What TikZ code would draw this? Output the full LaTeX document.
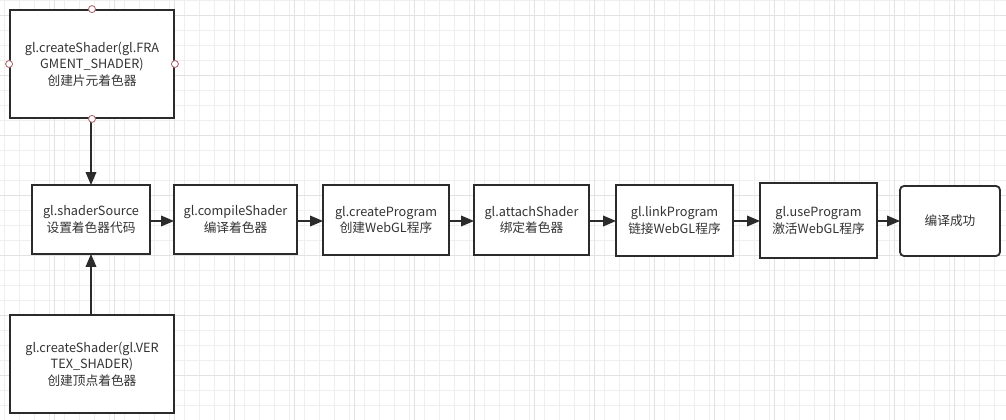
\documentclass[tikz,border=0pt]{standalone}
\usepackage{fontspec}
\setmainfont{Noto Sans CJK SC}
\usetikzlibrary{arrows.meta}
\definecolor{txt}{HTML}{333333}
\definecolor{edge}{HTML}{2B2B2B}
\definecolor{gminor}{HTML}{EFEFEF}
\definecolor{gmajor}{HTML}{E2E2E2}
\definecolor{pin}{HTML}{B06A74}
\tikzset{
  box/.style={draw=edge, line width=1.8pt, fill=white, text=txt, align=center,
    font=\fontsize{12.7}{16.5}\selectfont, inner sep=0pt},
  flow/.style={draw=edge, line width=1.8pt, -{Triangle[length=13pt,width=10.5pt]}, shorten >=-1pt},
  pinc/.style={circle, draw=pin, fill=white, line width=0.9pt, minimum size=7pt, inner sep=0pt}
}
\begin{document}
\begin{tikzpicture}[x=1pt,y=-1pt]
\useasboundingbox (0,0) rectangle (1006,420);
\fill[white] (0,0) rectangle (1006,420);
% grid
\foreach \i in {0,...,67} {\draw[gminor, line width=0.8pt] ({4+15*\i},0) -- ({4+15*\i},420);}
\foreach \i in {0,...,28} {\draw[gminor, line width=0.8pt] (0,{15*\i}) -- (1006,{15*\i});}
\foreach \i in {0,...,16} {\draw[gmajor, line width=0.9pt] ({-6+60*\i},0) -- ({-6+60*\i},420);}
\foreach \i in {0,...,7} {\draw[gmajor, line width=0.9pt] (0,{15+60*\i}) -- (1006,{15+60*\i});}
% nodes
\node[box, minimum width=164pt, minimum height=108pt] (frag) at (92,64) {gl.createShader(gl.FRA\\GMENT\_SHADER)\\创建片元着色器};
\node[box, minimum width=118pt, minimum height=69pt] (src) at (91,219.5) {gl.shaderSource\\设置着色器代码};
\node[box, minimum width=123pt, minimum height=69pt] (comp) at (235.5,219.5) {gl.compileShader\\编译着色器};
\node[box, minimum width=126pt, minimum height=70pt] (cprog) at (386,220) {gl.createProgram\\创建WebGL程序};
\node[box, minimum width=115pt, minimum height=70pt] (attach) at (531.5,220) {gl.attachShader\\绑定着色器};
\node[box, minimum width=117pt, minimum height=71pt] (link) at (674.5,220.5) {gl.linkProgram\\链接WebGL程序};
\node[box, minimum width=117pt, minimum height=75pt] (use) at (818.5,220.5) {gl.useProgram\\激活WebGL程序};
\node[box, rounded corners=4pt, minimum width=100pt, minimum height=70pt] (ok) at (950,221) {编译成功};
\node[box, minimum width=164pt, minimum height=98pt] (vert) at (92,364) {gl.createShader(gl.VER\\TEX\_SHADER)\\创建顶点着色器};
% connectors
\draw[flow] (frag.south -| src.north) -- (src.north);
\draw[flow] (vert.north -| src.south) -- (src.south);
\draw[flow] (src.east |- 0,221) -- (comp.west |- 0,221);
\draw[flow] (comp.east |- 0,221) -- (cprog.west |- 0,221);
\draw[flow] (cprog.east |- 0,221) -- (attach.west |- 0,221);
\draw[flow] (attach.east |- 0,221) -- (link.west |- 0,221);
\draw[flow] (link.east |- 0,221) -- (use.west |- 0,221);
\draw[flow] (use.east |- 0,221) -- (ok.west |- 0,221);
% connection points on selected node
\node[pinc] (p1) at (frag.north) {};
\node[pinc] (p2) at (frag.west) {};
\node[pinc] (p3) at (frag.east) {};
\node[pinc] (p4) at (frag.south) {};
\end{tikzpicture}
\end{document}
